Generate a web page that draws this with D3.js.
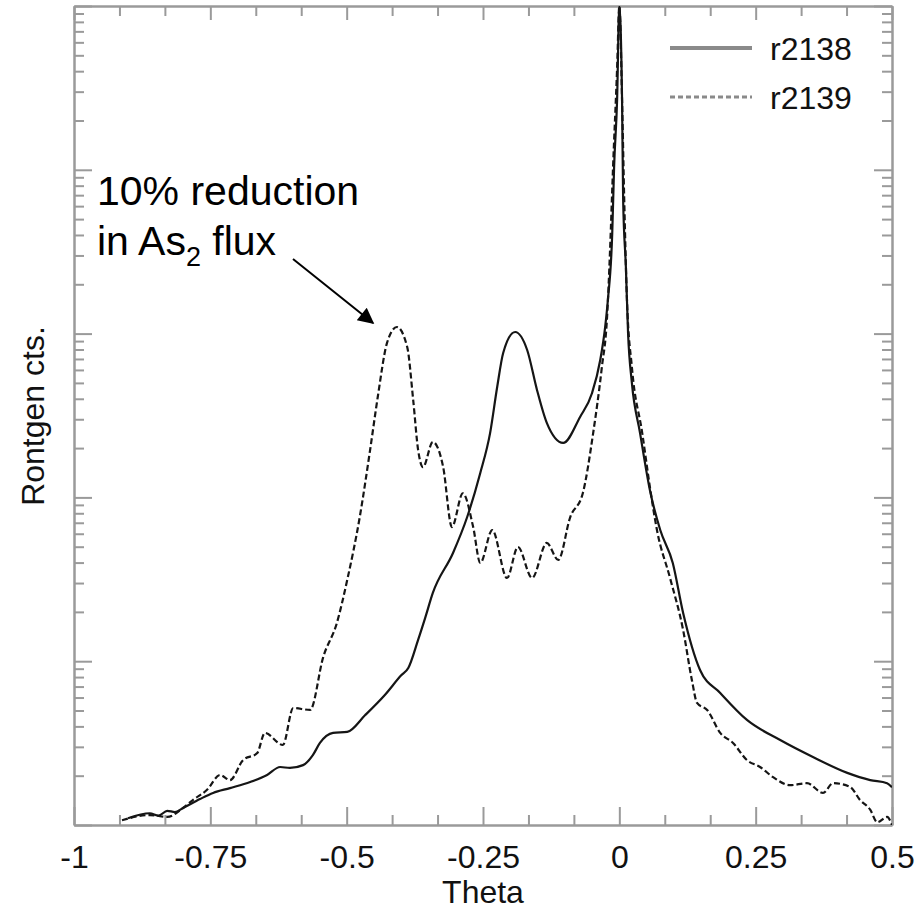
<html><head>
<script src="https://d3js.org/d3.v7.min.js"></script>
<style>
  body { margin: 0; background: #fff; }
  text { font-family: "Liberation Sans", Arial, sans-serif; }
</style>
</head>
<body>
<svg id="chart" width="919" height="912"></svg>
<script>
// x tick labels (Theta)
const xTicks = [-1, -0.75, -0.5, -0.25, 0, 0.25, 0.5];
const xTickLabels = ["-1", "-0.75", "-0.5", "-0.25", "0", "0.25", "0.5"];
// y decades, log axis without labels
const yTicks = [1, 10, 100, 1000, 10000, 100000];

const seriesNames = ["r2138", "r2139"];

// r2138 (solid) : [theta, counts]
const r2138 = [
  [-0.901, 1.10], [-0.861, 1.18], [-0.845, 1.14], [-0.829, 1.22], [-0.815, 1.20], [-0.800, 1.27],
  [-0.769, 1.44], [-0.745, 1.57], [-0.714, 1.68], [-0.677, 1.83], [-0.646, 2.02],
  [-0.622, 2.26], [-0.604, 2.23], [-0.580, 2.32], [-0.562, 2.67], [-0.549, 3.17],
  [-0.525, 3.65], [-0.499, 3.70], [-0.466, 4.69], [-0.430, 6.22], [-0.400, 8.2], [-0.387, 9.09],
  [-0.369, 13.5], [-0.356, 18.4], [-0.342, 26.1], [-0.305, 45.8], [-0.279, 75.9],
  [-0.255, 141], [-0.237, 247], [-0.224, 472], [-0.213, 762], [-0.191, 1023],
  [-0.169, 794], [-0.151, 453], [-0.133, 285], [-0.103, 215], [-0.072, 310],
  [-0.050, 434], [-0.035, 690], [-0.026, 1097], [-0.021, 1603], [-0.013, 4112],
  [-0.0096, 10400], [-0.0041, 26700], [0, 100000], [0.005, 26700], [0.007, 6540],
  [0.012, 2550], [0.016, 1009], [0.023, 500], [0.038, 247], [0.056, 111],
  [0.075, 63.2], [0.098, 39.8], [0.117, 19.7], [0.148, 8.84], [0.185, 6.40],
  [0.234, 4.38], [0.295, 3.30], [0.355, 2.60], [0.418, 2.08], [0.460, 1.88], [0.491, 1.80], [0.5, 1.70]
];

// r2139 (dashed) : [theta, counts]
const r2139 = [
  [-0.912, 1.07], [-0.861, 1.15], [-0.829, 1.12], [-0.800, 1.27], [-0.782, 1.42],
  [-0.756, 1.64], [-0.732, 2.02], [-0.714, 1.88], [-0.690, 2.49], [-0.664, 2.75],
  [-0.650, 3.65], [-0.617, 3.08], [-0.598, 5.18], [-0.567, 5.04], [-0.543, 10.6],
  [-0.518, 17.1], [-0.499, 31.3], [-0.476, 75.9], [-0.457, 195], [-0.443, 410],
  [-0.426, 877], [-0.408, 1097], [-0.389, 829], [-0.378, 393], [-0.369, 195],
  [-0.360, 153], [-0.342, 218], [-0.323, 153], [-0.307, 65.9], [-0.287, 106],
  [-0.268, 65.9], [-0.255, 39.8], [-0.233, 63.2], [-0.206, 32.2], [-0.186, 49.8],
  [-0.160, 32.2], [-0.133, 52.7], [-0.112, 41.5], [-0.090, 75.9], [-0.067, 106],
  [-0.048, 247], [-0.032, 625], [-0.0225, 1262], [-0.017, 3240], [-0.0115, 10400],
  [-0.004, 42400], [0, 100000], [0.005, 26700], [0.009, 6540], [0.014, 1603],
  [0.023, 625], [0.042, 247], [0.056, 116], [0.069, 63.2], [0.093, 32.2],
  [0.117, 15.5], [0.133, 7.68], [0.1425, 5.56], [0.161, 5.04], [0.185, 3.65],
  [0.2085, 3.17], [0.234, 2.49], [0.258, 2.26], [0.282, 1.96], [0.313, 1.75],
  [0.344, 1.80], [0.3735, 1.57], [0.392, 1.80], [0.423, 1.71], [0.4415, 1.42],
  [0.460, 1.24], [0.473, 1.04], [0.491, 1.12], [0.5, 1.0]
];

let svg = d3.select("svg#chart");
let margin = { "top": 6, "right": 27, "bottom": 87, "left": 74 };
let width = +svg.attr("width"), height = +svg.attr("height");
let chartWidth = width - margin.left - margin.right;
let chartHeight = height - margin.top - margin.bottom;

const x = d3.scaleLinear().domain([-1, 0.5]).range([margin.left, margin.left + chartWidth]);
const y = d3.scaleLog().domain([1, 100000]).range([margin.top + chartHeight, margin.top]);

// minor ticks: 3 per 0.25 step on x, 2..9 per decade on y
let xMinor = [];
xTicks.slice(0, -1).forEach(t => { xMinor.push(t + 0.25 / 3, t + 0.5 / 3); });
let yMinor = [];
yTicks.slice(0, -1).forEach(t => { for (let k = 2; k <= 9; k++) yMinor.push(t * k); });

const axisColor = "#9a9a9a";
function styleAxis(g) {
  g.selectAll("path, line").attr("stroke", axisColor).attr("stroke-width", 2);
  g.selectAll("text").remove();
}

// frame + ticks
const plotBottom = margin.top + chartHeight, plotTop = margin.top;
const plotLeft = margin.left, plotRight = margin.left + chartWidth;

svg.append("g").attr("transform", "translate(0," + plotBottom + ")")
  .call(d3.axisBottom(x).tickValues(xTicks).tickSize(-18).tickSizeOuter(0)).call(styleAxis);
svg.append("g").attr("transform", "translate(0," + plotBottom + ")")
  .call(d3.axisBottom(x).tickValues(xMinor).tickSize(-10).tickSizeOuter(0)).call(styleAxis);
svg.append("g").attr("transform", "translate(0," + plotTop + ")")
  .call(d3.axisTop(x).tickValues(xTicks).tickSize(-14).tickSizeOuter(0)).call(styleAxis);
svg.append("g").attr("transform", "translate(0," + plotTop + ")")
  .call(d3.axisTop(x).tickValues(xMinor).tickSize(-10).tickSizeOuter(0)).call(styleAxis);

svg.append("g").attr("transform", "translate(" + plotLeft + ",0)")
  .call(d3.axisLeft(y).tickValues(yTicks).tickSize(-18).tickSizeOuter(0)).call(styleAxis);
svg.append("g").attr("transform", "translate(" + plotLeft + ",0)")
  .call(d3.axisLeft(y).tickValues(yMinor).tickSize(-10).tickSizeOuter(0)).call(styleAxis);
svg.append("g").attr("transform", "translate(" + plotRight + ",0)")
  .call(d3.axisRight(y).tickValues(yTicks).tickSize(-18).tickSizeOuter(0)).call(styleAxis);
svg.append("g").attr("transform", "translate(" + plotRight + ",0)")
  .call(d3.axisRight(y).tickValues(yMinor).tickSize(-10).tickSizeOuter(0)).call(styleAxis);

// x tick labels
let xLabels = svg.append("g").attr("transform", "translate(0," + plotBottom + ")")
  .call(d3.axisBottom(x).tickValues(xTicks).tickSize(0).tickPadding(20)
    .tickFormat((d, i) => xTickLabels[i]));
xLabels.select(".domain").remove();
xLabels.selectAll("text").attr("font-size", 32).attr("fill", "#111")
  .style("font-family", "'Liberation Sans', Arial, sans-serif");

// axis titles
svg.append("text").attr("x", (plotLeft + plotRight) / 2).attr("y", 903)
  .attr("text-anchor", "middle").attr("font-size", 32).attr("fill", "#111").text("Theta");
svg.append("text").attr("transform", "translate(44,416) rotate(-90)")
  .attr("text-anchor", "middle").attr("font-size", 32).attr("fill", "#111").text("Rontgen cts.");

// curves
svg.append("clipPath").attr("id", "plotclip").append("rect")
  .attr("x", plotLeft).attr("y", plotTop).attr("width", chartWidth).attr("height", chartHeight);

const line = d3.line().x(d => x(d[0])).y(d => y(d[1])).curve(d3.curveMonotoneX);

svg.append("path").datum(r2138).attr("clip-path", "url(#plotclip)")
  .attr("d", line).attr("fill", "none").attr("stroke", "#151515").attr("stroke-width", 2.2);
svg.append("path").datum(r2139).attr("clip-path", "url(#plotclip)")
  .attr("d", line).attr("fill", "none").attr("stroke", "#151515").attr("stroke-width", 2.2)
  .attr("stroke-dasharray", "6,3");

// legend
let legend = svg.append("g");
seriesNames.forEach((name, i) => {
  let ly = 48 + i * 49;
  legend.append("line").attr("x1", 670).attr("x2", 752).attr("y1", ly).attr("y2", ly)
    .attr("stroke", "#8a8a8a").attr("stroke-width", i == 0 ? 4 : 3)
    .attr("stroke-dasharray", i == 0 ? null : "5,3");
  legend.append("text").attr("x", 770).attr("y", ly + 12).attr("font-size", 32)
    .attr("fill", "#111").text(name);
});

// annotation
let note = svg.append("text").attr("font-size", 41).attr("fill", "#000");
note.append("tspan").attr("x", 97).attr("y", 205).text("10% reduction");
let l2 = svg.append("text").attr("x", 97).attr("y", 255).attr("font-size", 41).attr("fill", "#000");
l2.append("tspan").text("in As");
l2.append("tspan").attr("font-size", 27).attr("dy", 11).text("2");
l2.append("tspan").attr("dy", -11).text(" flux");

svg.append("defs").append("marker").attr("id", "arrow")
  .attr("viewBox", "0 0 10 10").attr("refX", 9).attr("refY", 5)
  .attr("markerWidth", 20).attr("markerHeight", 16).attr("markerUnits", "userSpaceOnUse")
  .attr("orient", "auto")
  .append("path").attr("d", "M0,0 L10,5 L0,10 z").attr("fill", "#000");
svg.append("line").attr("x1", 293).attr("y1", 259).attr("x2", 373).attr("y2", 323)
  .attr("stroke", "#000").attr("stroke-width", 2).attr("marker-end", "url(#arrow)");
</script>
</body>
</html>
